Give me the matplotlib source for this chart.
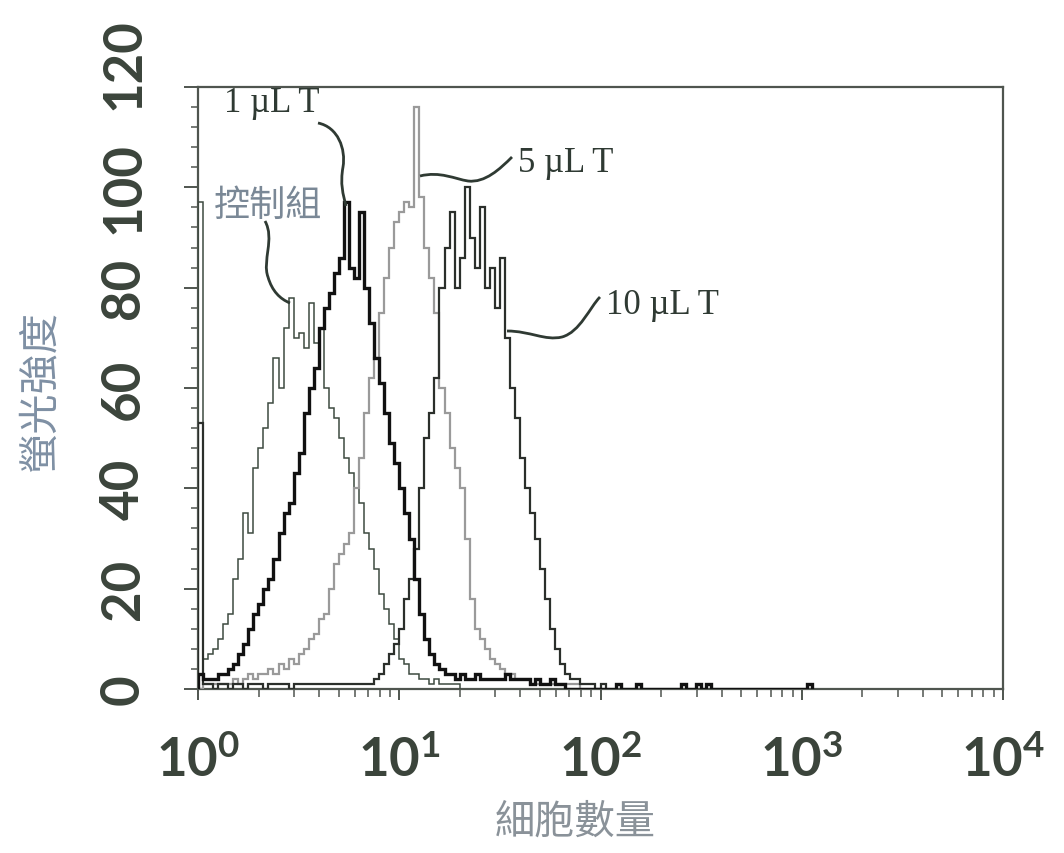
import numpy as np
import matplotlib
matplotlib.use("Agg")
import matplotlib.pyplot as plt
import matplotlib.transforms as mtransforms
from matplotlib.path import Path
from matplotlib.patches import PathPatch
from matplotlib.ticker import MultipleLocator, LogLocator, FixedLocator, NullFormatter

plt.rcParams['font.family'] = ['Noto Sans CJK TC', 'DejaVu Sans']
plt.rcParams['mathtext.fontset'] = 'custom'
plt.rcParams['mathtext.rm'] = 'Lato:bold'
plt.rcParams['mathtext.it'] = 'Lato:bold'
plt.rcParams['mathtext.bf'] = 'Lato:bold'
plt.rcParams['mathtext.default'] = 'rm'

# ---------------- data (histogram counts, 40 log-bins per decade from 10^0) ----------------
bins_per_decade = 40

control = [97, 6, 7, 8, 10, 13, 15, 22, 26, 35,
           31, 44, 48, 52, 57, 66, 60, 72, 78, 70,
           71, 68, 77, 69, 72, 60, 56, 54, 50, 46,
           43, 40, 37, 31, 28, 24, 19, 16, 13, 10,
           6, 5, 3, 3, 2, 2, 1, 2, 1, 1,
           1, 1]

ul1 = [3, 2, 2, 2, 3, 3, 4, 5, 7, 9,
       12, 15, 17, 20, 22, 26, 31, 35, 37, 43,
       47, 55, 60, 64, 72, 76, 79, 83, 86, 97,
       84, 82, 95, 80, 73, 66, 61, 55, 49, 45,
       40, 35, 30, 22, 15, 10, 7, 5, 4, 3,
       3, 2, 3, 2, 2, 3, 2, 2, 2, 2,
       2, 3, 2, 2, 2, 2, 1, 2, 1, 1,
       2, 1, 1, 0, 0, 0, 0, 0, 0, 0,
       0, 0, 0, 1, 0, 0, 0, 1, 0, 0,
       0, 0, 0, 0, 0, 0, 1, 0, 0, 1,
       0, 1, 0, 0, 0, 0, 0, 0, 0, 0,
       0, 0, 0, 0, 0, 0, 0, 0, 0, 0,
       0, 1]

ul5 = [0, 1, 1, 1, 1, 1, 1, 2, 1, 2,
       3, 2, 3, 3, 4, 3, 5, 4, 6, 5,
       7, 8, 10, 11, 14, 15, 20, 25, 27, 29,
       31, 40, 46, 55, 62, 66, 75, 82, 88, 93,
       95, 97, 96, 116, 98, 88, 82, 75, 60, 55,
       48, 44, 40, 30, 18, 12, 10, 8, 6, 5,
       4, 3, 3, 2, 2, 2, 1, 1, 1, 1,
       1, 1, 1, 1, 1, 1]

ul10 = [53, 1, 1, 0, 1, 1, 0, 1, 1, 0,
        1, 1, 1, 0, 1, 1, 1, 1, 0, 1,
        1, 1, 1, 1, 1, 1, 1, 1, 1, 1,
        1, 1, 1, 1, 1, 2, 3, 5, 7, 9,
        12, 18, 22, 28, 40, 50, 55, 62, 80, 88,
        95, 80, 86, 100, 90, 84, 96, 80, 84, 76,
        86, 70, 60, 54, 46, 40, 35, 30, 24, 18,
        12, 8, 5, 3, 2, 2, 1, 1, 1, 0,
        1]

y_ticks = [0, 20, 40, 60, 80, 100, 120]
y_labels = ['0', '20', '40', '60', '80', '100', '120']
x_ticks = [1, 10, 100, 1000, 10000]
x_labels = [r'$10^{0}$', r'$10^{1}$', r'$10^{2}$', r'$10^{3}$', r'$10^{4}$']

series_names = ['控制組', '1 µL T', '5 µL T', '10 µL T']
x_label = '細胞數量'
y_label = '螢光強度'

# ---------------- figure ----------------
W, H = 1064, 854
fig = plt.figure(figsize=(W / 100, H / 100), dpi=100)
fig.patch.set_facecolor('white')
ax = fig.add_axes([198 / W, 1 - 690 / H, 805 / W, 602 / H])
ax.set_xscale('log')


def edges_for(vals):
    return 10 ** (np.arange(len(vals) + 1) / bins_per_decade)


ax.stairs(control, edges_for(control), color='#3d4a40', lw=1.1, zorder=3)
ax.stairs(ul5, edges_for(ul5), color='#9a9a9a', lw=1.6, zorder=4)
ax.stairs(ul10, edges_for(ul10), color='#2b2f2b', lw=1.6, zorder=5)
ax.stairs(ul1, edges_for(ul1), color='#111111', lw=2.4, zorder=6)

ax.set_xlim(1, 1e4)
ax.set_ylim(0, 120)

spine_col = '#4f554f'
for s in ax.spines.values():
    s.set_color(spine_col)
    s.set_linewidth(1.6)

tick_col = '#3b443b'
ax.yaxis.set_major_locator(FixedLocator(y_ticks))
ax.set_yticklabels(y_labels, rotation=90, va='center', fontfamily='Lato',
                   fontweight='bold', fontsize=38, color=tick_col)
ax.yaxis.set_minor_locator(MultipleLocator(4))
ax.xaxis.set_major_locator(FixedLocator(x_ticks))
ax.set_xticklabels(x_labels, fontsize=38, color=tick_col)
ax.xaxis.set_minor_locator(LogLocator(base=10, subs=np.arange(2, 10)))
ax.xaxis.set_minor_formatter(NullFormatter())

ax.tick_params(axis='y', which='major', length=10, width=1.4, color=spine_col, pad=26)
ax.tick_params(axis='y', which='minor', length=5, width=1.1, color=spine_col)
ax.tick_params(axis='x', which='major', length=8, width=1.4, color=spine_col, pad=24)
ax.tick_params(axis='x', which='minor', length=6, width=1.1, color=spine_col)

# the top y label sits higher than its tick in the original
top_lbl = ax.yaxis.get_major_ticks()[-1].label1
top_lbl.set_transform(top_lbl.get_transform() +
                      mtransforms.ScaledTranslation(0, 0.24, fig.dpi_scale_trans))

# axis titles
fig.text(40 / W, 1 - 392 / H, y_label, rotation=90, ha='center', va='center',
         fontsize=29, color='#7f90a4')
fig.text(575 / W, 1 - 822 / H, x_label, ha='center', va='center',
         fontsize=29, color='#8a9299')

# ---------------- annotations (overlay in pixel coordinates) ----------------
ov = fig.add_axes([0, 0, 1, 1], facecolor='none')
ov.set_xlim(0, W)
ov.set_ylim(H, 0)
ov.axis('off')

serif = ['Liberation Serif', 'DejaVu Serif']
ann_col = '#2f3a33'
ov.text(272, 103, series_names[1], ha='center', va='center', fontsize=25,
        family=serif, color=ann_col)
ov.text(268, 206, series_names[0], ha='center', va='center', fontsize=26,
        color='#7a8896')
ov.text(566, 164, series_names[2], ha='center', va='center', fontsize=25,
        family=serif, color=ann_col)
ov.text(662, 306, series_names[3], ha='center', va='center', fontsize=25,
        family=serif, color=ann_col)

C4 = Path.CURVE4
curves = [
    [(318, 124), (338, 128), (346, 150), (343, 168), (340, 185), (343, 195), (346, 207)],
    [(265, 222), (275, 240), (262, 262), (268, 278), (272, 292), (280, 300), (290, 304)],
    [(420, 177), (440, 172), (455, 180), (468, 182), (485, 184), (500, 170), (512, 158)],
    [(507, 332), (530, 332), (545, 342), (562, 338), (580, 333), (590, 308), (600, 298)],
]
for pts in curves:
    codes = [Path.MOVETO, C4, C4, C4, C4, C4, C4]
    ov.add_patch(PathPatch(Path(pts, codes), fill=False, lw=2.0, ec='#2f3a33'))

fig.savefig('out.png', dpi=100, facecolor='white')
